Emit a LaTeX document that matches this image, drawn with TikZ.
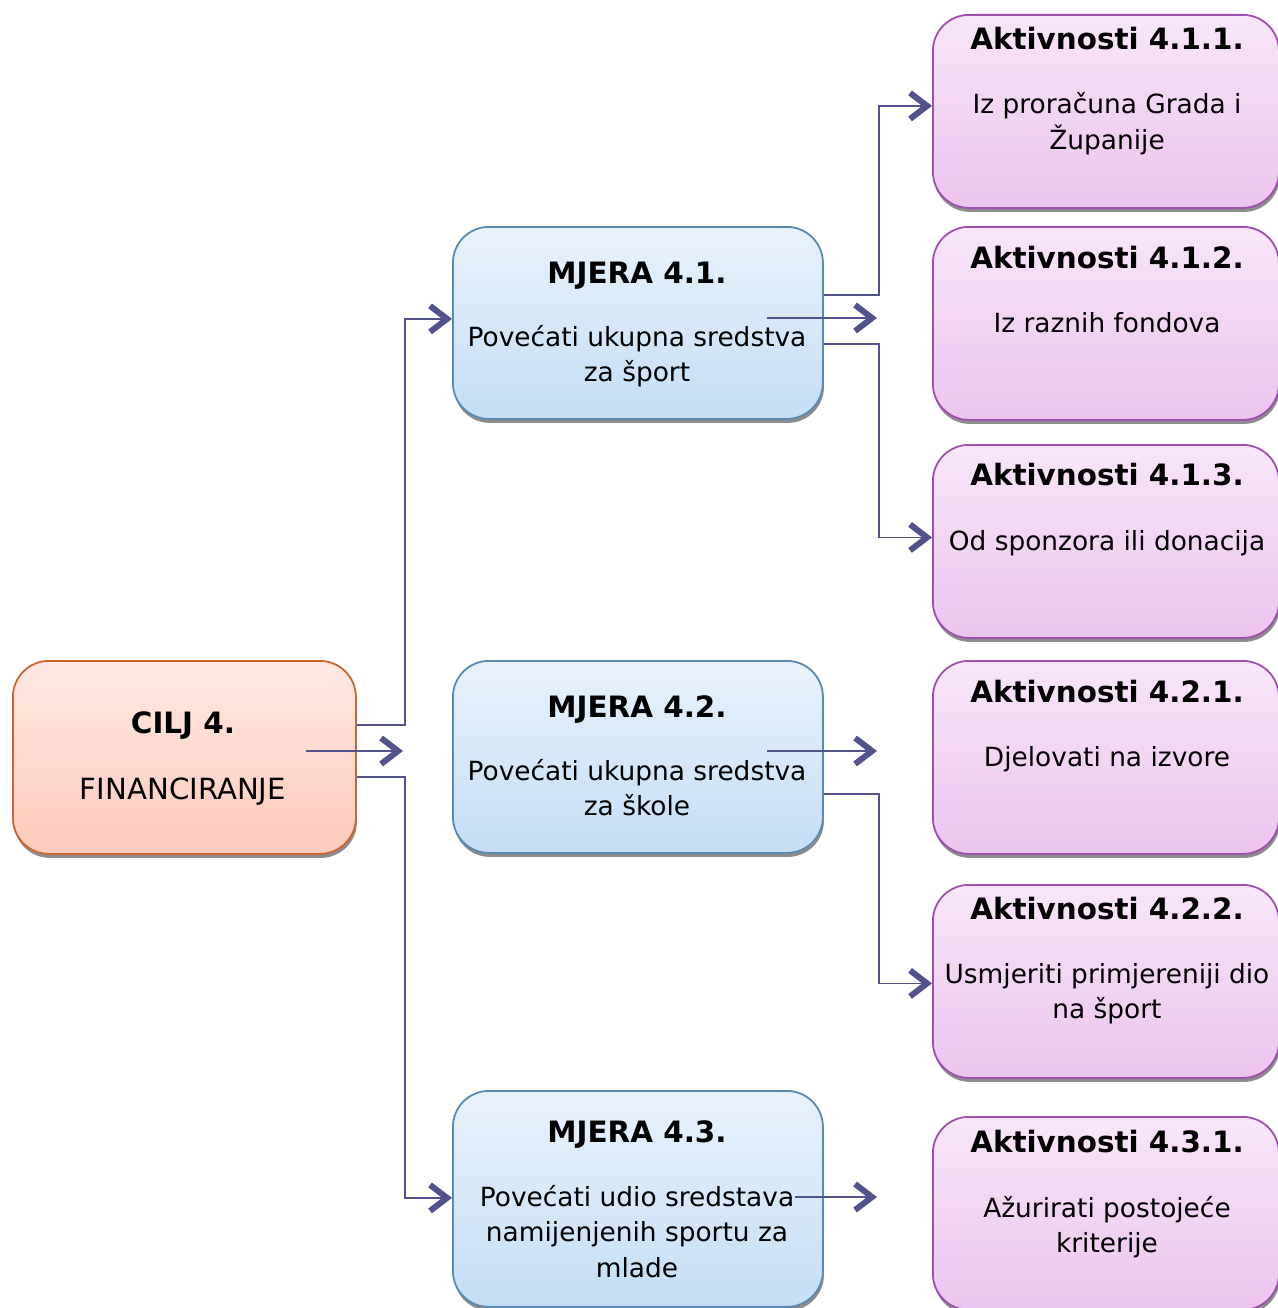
\documentclass[tikz,border=0pt]{standalone}
\usepackage{fontspec}
\setmainfont{DejaVu Sans}
\usetikzlibrary{arrows.meta,shadows,calc}
\definecolor{lineC}{RGB}{82,82,140}
\definecolor{ciljTop}{RGB}{255,233,227}
\definecolor{ciljBot}{RGB}{255,202,188}
\definecolor{ciljBd}{RGB}{204,102,48}
\definecolor{mjTop}{RGB}{233,242,252}
\definecolor{mjBot}{RGB}{196,222,246}
\definecolor{mjBd}{RGB}{88,138,178}
\definecolor{akTop}{RGB}{248,230,249}
\definecolor{akBot}{RGB}{236,196,238}
\definecolor{akBd}{RGB}{160,78,176}
\newcommand{\bodyfont}{\fontsize{26.4}{35.5}\selectfont}
\newcommand{\ttlfont}{\fontsize{29.4}{35.5}\selectfont\bfseries}
\tikzset{
  boxbase/.style={rectangle, rounded corners=36pt, line width=1.8pt, anchor=north west,
     drop shadow={shadow xshift=1pt, shadow yshift=-4pt, fill=black!45, opacity=1}},
  ciljbox/.style={boxbase, draw=ciljBd, top color=ciljTop, bottom color=ciljBot,
     minimum width=343pt, minimum height=193pt},
  mjbox/.style={boxbase, draw=mjBd, top color=mjTop, bottom color=mjBot,
     minimum width=370pt, minimum height=192pt},
  akbox/.style={boxbase, draw=akBd, top color=akTop, bottom color=akBot,
     minimum width=346pt, minimum height=193pt},
  ttl/.style={inner sep=0pt, anchor=base, font=\ttlfont},
  body/.style={inner sep=0pt, anchor=base, font=\bodyfont},
  conn/.style={draw=lineC, line width=1.8pt,
     -{Straight Barb[length=17pt, width=26pt, line width=6pt, line join=miter]}},
}
\begin{document}
\begin{tikzpicture}[x=1pt,y=-1pt]
\useasboundingbox (0,0) rectangle (1277,1308);
% boxes
\node[ciljbox] (cilj) at (12,660) {};
\node[mjbox] (m41) at (452,226) {};
\node[mjbox] (m42) at (452,660) {};
\node[mjbox, minimum height=216pt] (m43) at (452,1090) {};
\node[akbox] (a411) at (932,14) {};
\node[akbox] (a412) at (932,226) {};
\node[akbox] (a413) at (932,444) {};
\node[akbox] (a421) at (932,660) {};
\node[akbox] (a422) at (932,884) {};
\node[akbox] (a431) at (932,1116) {};
% texts
\node[ttl] (tc) at (183,733) {CILJ 4.};
\node[body, font=\fontsize{29.2}{35.5}\selectfont] (bc) at (183,799) {FINANCIRANJE};
\node[ttl] (t41) at (637,283) {MJERA 4.1.};
\node[body] (b41) at (637,346) {\begin{tabular}[t]{@{}c@{}}Povećati ukupna sredstva\\za šport\end{tabular}};
\node[ttl] (t42) at (637,717) {MJERA 4.2.};
\node[body] (b42) at (637,780) {\begin{tabular}[t]{@{}c@{}}Povećati ukupna sredstva\\za škole\end{tabular}};
\node[ttl] (t43) at (637,1142) {MJERA 4.3.};
\node[body] (b43) at (637,1206) {\begin{tabular}[t]{@{}c@{}}Povećati udio sredstava\\namijenjenih sportu za\\mlade\end{tabular}};
\node[ttl] (ta411) at (1107,50) {Aktivnosti 4.1.1.};
\node[body] (ba411) at (1107,114) {\begin{tabular}[t]{@{}c@{}}Iz proračuna Grada i\\Županije\end{tabular}};
\node[ttl] (ta412) at (1107,268) {Aktivnosti 4.1.2.};
\node[body] (ba412) at (1107,332) {Iz raznih fondova};
\node[ttl] (ta413) at (1107,485) {Aktivnosti 4.1.3.};
\node[body] (ba413) at (1107,550) {Od sponzora ili donacija};
\node[ttl] (ta421) at (1107,702) {Aktivnosti 4.2.1.};
\node[body] (ba421) at (1107,766) {Djelovati na izvore};
\node[ttl] (ta422) at (1107,919) {Aktivnosti 4.2.2.};
\node[body] (ba422) at (1107,983) {\begin{tabular}[t]{@{}c@{}}Usmjeriti primjereniji dio\\na šport\end{tabular}};
\node[ttl] (ta431) at (1107,1152) {Aktivnosti 4.3.1.};
\node[body] (ba431) at (1107,1217) {\begin{tabular}[t]{@{}c@{}}Ažurirati postojeće\\kriterije\end{tabular}};
% loose arrow coordinates
\coordinate (c0a) at (306,751); \coordinate (c0b) at (403,751);
\coordinate (m1a) at (767,318); \coordinate (m1b) at (877,318);
\coordinate (m2a) at (767,751); \coordinate (m2b) at (877,751);
\coordinate (m3a) at (795,1197); \coordinate (m3b) at (877,1197);
% connectors
\draw[conn] ($(cilj.north east)+(0,65)$) -- ++(48,0) |- ($(m41.west)+(0,-4)$);
\draw[conn] ($(cilj.north east)+(0,117)$) -- ++(48,0) |- ($(m43.west)+(0,-1)$);
\draw[conn] (c0a) -- (c0b);
\draw[conn] ($(m41.north east)+(0,69)$) -- ++(55,0) |- ($(a411.west)+(0,-5.5)$);
\draw[conn] ($(m41.north east)+(0,118)$) -- ++(55,0) |- ($(a413.west)+(0,-4)$);
\draw[conn] (m1a) -- (m1b);
\draw[conn] (m2a) -- (m2b);
\draw[conn] ($(m42.north east)+(0,134)$) -- ++(55,0) |- ($(a422.west)+(0,2)$);
\draw[conn] (m3a) -- (m3b);
\end{tikzpicture}
\end{document}
